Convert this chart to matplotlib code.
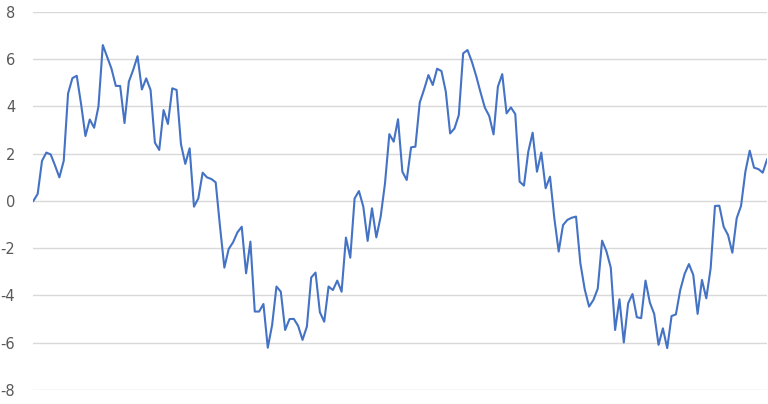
import numpy as np
import matplotlib
matplotlib.use("Agg")
import matplotlib.pyplot as plt

# valeurs (170 points, pas constant)
valeurs = [
    0.0, 0.3, 1.7, 2.05, 1.97, 1.5, 1.0, 1.7, 4.55, 5.2,
    5.3, 4.1, 2.75, 3.45, 3.1, 4.0, 6.6, 6.1, 5.6, 4.87,
    4.87, 3.3, 5.05, 5.55, 6.13, 4.72, 5.19, 4.7, 2.47, 2.16,
    3.85, 3.26, 4.77, 4.7, 2.41, 1.57, 2.23, -0.24, 0.11, 1.2,
    1.0, 0.93, 0.79, -1.09, -2.82, -2.03, -1.75, -1.33, -1.09, -3.06,
    -1.72, -4.68, -4.68, -4.36, -6.21, -5.25, -3.62, -3.84, -5.46, -5.0,
    -4.99, -5.29, -5.88, -5.32, -3.24, -3.03, -4.71, -5.11, -3.62, -3.77,
    -3.37, -3.84, -1.55, -2.4, 0.11, 0.42, -0.24, -1.69, -0.31, -1.54,
    -0.66, 0.75, 2.83, 2.51, 3.46, 1.24, 0.89, 2.27, 2.3, 4.17,
    4.72, 5.33, 4.91, 5.6, 5.5, 4.63, 2.86, 3.07, 3.64, 6.25,
    6.39, 5.9, 5.29, 4.6, 3.95, 3.6, 2.82, 4.84, 5.37, 3.71,
    3.96, 3.68, 0.82, 0.65, 2.09, 2.89, 1.24, 2.05, 0.54, 1.03,
    -0.73, -2.14, -1.02, -0.8, -0.71, -0.66, -2.64, -3.74, -4.47, -4.19,
    -3.71, -1.68, -2.13, -2.82, -5.46, -4.16, -5.99, -4.33, -3.94, -4.92,
    -4.96, -3.37, -4.3, -4.78, -6.09, -5.39, -6.23, -4.87, -4.8, -3.77,
    -3.09, -2.67, -3.13, -4.78, -3.34, -4.12, -2.85, -0.21, -0.2, -1.09,
    -1.44, -2.19, -0.73, -0.21, 1.24, 2.13, 1.41, 1.35, 1.2, 1.76,
]
graduations = [-8, -6, -4, -2, 0, 2, 4, 6, 8]

plt.rcParams["axes.unicode_minus"] = False

x = np.arange(len(valeurs))

fig = plt.figure(figsize=(7.68, 4.04), dpi=100)
ax = fig.add_axes([0.0434, 0.0347, 0.9554, 0.9356])

ax.plot(x, valeurs, color="#4472C4", linewidth=1.5)

ax.set_xlim(0, len(valeurs) - 1)
ax.set_ylim(-8, 8)
ax.set_yticks(graduations)
ax.set_xticks([])
ax.yaxis.grid(True, color="#D9D9D9", linewidth=1.0)
ax.set_axisbelow(True)
for s in ax.spines.values():
    s.set_visible(False)
ax.tick_params(axis="y", length=0, pad=13, labelsize=10.5, labelcolor="#595959")

fig.savefig("out.png", dpi=100)
